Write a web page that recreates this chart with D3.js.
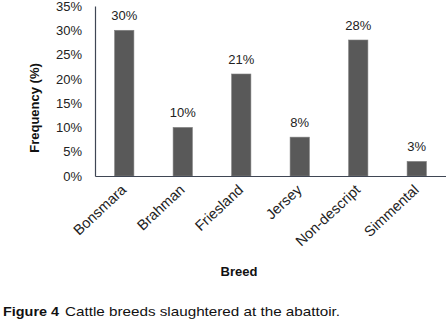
<!DOCTYPE html>
<html><head><meta charset="utf-8">
<script src="https://cdn.jsdelivr.net/npm/d3@7"></script>
<style>body{margin:0;background:#fff;} text{font-family:"Liberation Sans",Arial,sans-serif;}</style>
</head><body>
<svg id="c" width="446" height="323"></svg>
<script>
const categories = ["Bonsmara","Brahman","Friesland","Jersey","Non-descript","Simmental"];
const values = [30,10,21,8,28,3];
const yTicks = [0,5,10,15,20,25,30,35];

const svg = d3.select("#c");
const x = d3.scaleBand().domain(categories).range([95,446]).paddingInner(0.67).paddingOuter(0.335);
const y = d3.scaleLinear().domain([0,35]).range([176,6]);

// bars
svg.selectAll("rect.bar").data(values).join("rect")
  .attr("x",(d,i)=>x(categories[i])).attr("y",d=>y(d))
  .attr("width",x.bandwidth()).attr("height",d=>y(0)-y(d))
  .attr("fill","#595959").attr("stroke","#808080").attr("stroke-width",0.6);

// value labels
svg.selectAll("text.val").data(values).join("text")
  .attr("x",(d,i)=>x(categories[i])+x.bandwidth()/2).attr("y",d=>y(d)-10)
  .attr("text-anchor","middle").attr("font-size",13).attr("fill","#222")
  .text(d=>d+"%");

// y axis
const ya = d3.axisLeft(y).tickValues(yTicks).tickFormat(d=>d+"%").tickSize(0).tickPadding(13);
const gy = svg.append("g").attr("transform","translate(95,0)").call(ya);
gy.select(".domain").attr("stroke","#3f4654").attr("stroke-width",1.2);
gy.selectAll("text").attr("font-size",13).attr("fill","#222").attr("font-family","Liberation Sans, Arial, sans-serif");

// x axis
const xa = d3.axisBottom(x).tickSize(0).tickPadding(0);
const gx = svg.append("g").attr("transform","translate(0,176)").call(xa);
gx.select(".domain").attr("stroke","#3f4654").attr("stroke-width",1.2);
gx.selectAll("text").attr("font-size",14.5).attr("fill","#222").attr("font-family","Liberation Sans, Arial, sans-serif")
  .attr("text-anchor","end").attr("dy",0).attr("y",0)
  .attr("transform","translate(3,15) rotate(-43)");

// axis titles
svg.append("text").attr("transform","translate(39,108) rotate(-90)").attr("text-anchor","middle")
  .attr("font-size",13).attr("font-weight","bold").attr("fill","#111").text("Frequency (%)");
svg.append("text").attr("x",239).attr("y",276).attr("text-anchor","middle")
  .attr("font-size",13).attr("font-weight","bold").attr("fill","#111").text("Breed");

// caption
const cap = svg.append("text").attr("y",316).attr("font-size",13).attr("fill","#111");
cap.append("tspan").attr("x",3).attr("font-weight","bold").attr("textLength",56).attr("lengthAdjust","spacingAndGlyphs").text("Figure 4");
cap.append("tspan").attr("x",65).attr("textLength",275).attr("lengthAdjust","spacingAndGlyphs").text("Cattle breeds slaughtered at the abattoir.");
</script>
</body></html>
